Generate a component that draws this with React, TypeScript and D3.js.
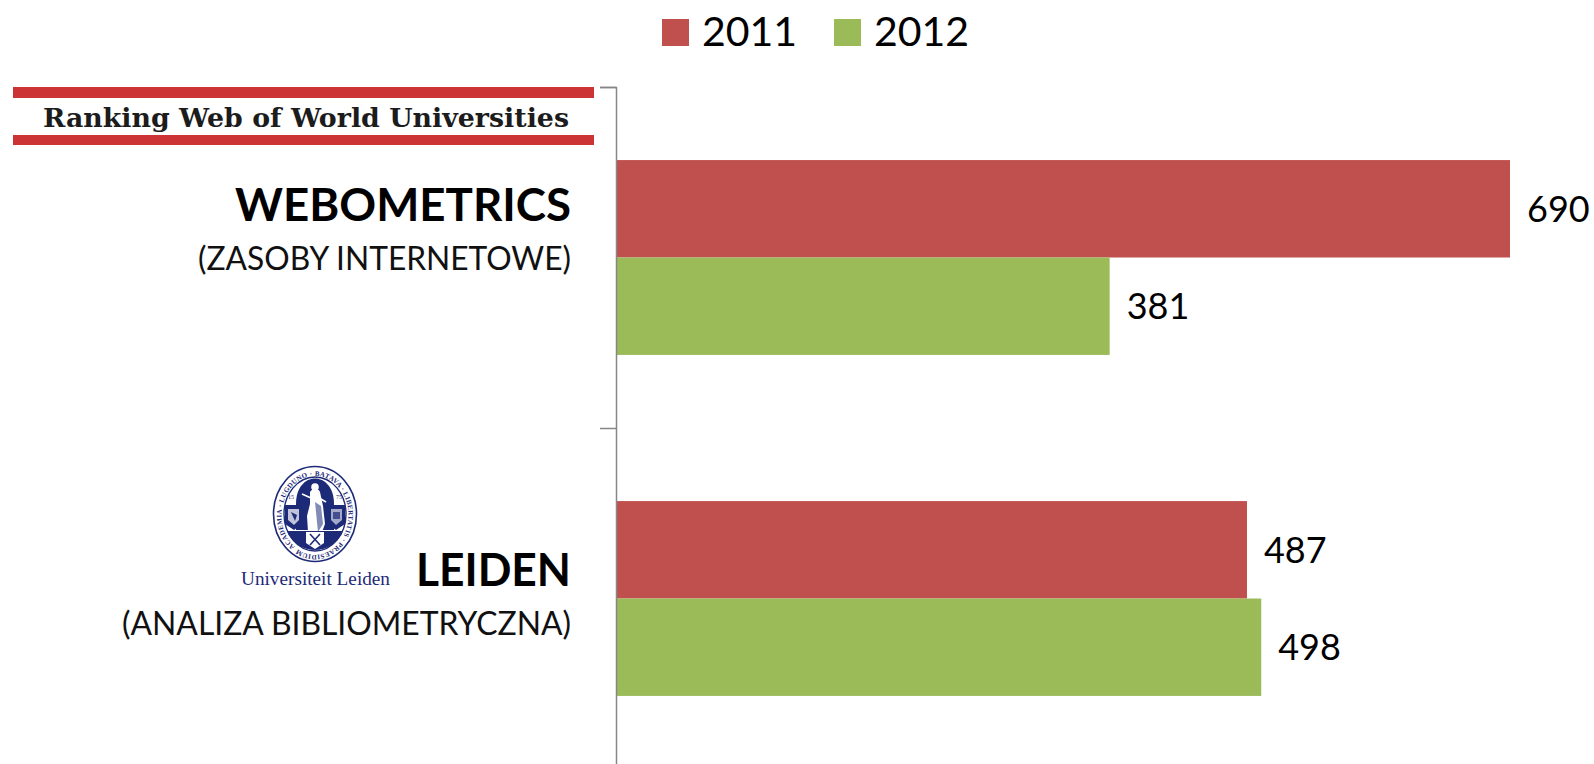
import { useEffect, useRef } from "react";
import * as d3 from "d3";

const categories = ["WEBOMETRICS", "LEIDEN"];
const subtitles = ["(ZASOBY INTERNETOWE)", "(ANALIZA BIBLIOMETRYCZNA)"];
const seriesNames = ["2011", "2012"];
const values2011 = [690, 487];
const values2012 = [381, 498];
const seriesColors = ["#C0504D", "#9BBB59"];

const font = "Lato, Carlito, sans-serif";
const W = 1594;
const H = 764;

const LeidenSeal = () => {
  const navy = "#1d2a78";
  return (
    <g transform="translate(315,514)">
      <ellipse rx={41.5} ry={47.5} fill="#fff" stroke={navy} strokeWidth={1.6} />
      <ellipse rx={31} ry={37} fill="#fff" stroke={navy} strokeWidth={1.4} />
      <path
        id="sealRing"
        d="M -20,33 A 33.5 39.5 0 1 1 20,33 A 33.5 39.5 0 0 1 -20,33"
        fill="none"
      />
      <text fontFamily="Liberation Serif" fontWeight={700} fontSize={7} fill={navy}>
        <textPath href="#sealRing" textLength={226} lengthAdjust="spacing">
          ACADEMIA · LUGDUNO · BATAVA · LIBERTATIS · PRAESIDIUM
        </textPath>
      </text>
      {/* centre arch with the figure */}
      <path d="M -19,-10 C -19,-44 19,-44 19,-10 L 19,16 L -19,16 Z" fill={navy} />
      <path d="M -5,-22 C -3,-26 4,-26 5,-22 L 8,-8 L 10,10 L 7,18 L -7,18 L -8,2 L -5,-10 Z" fill="#fff" />
      <circle cx={0} cy={-27} r={3.8} fill="#fff" />
      <path d="M 0,-12 L 6,-8 L 8,10 L 3,18 Z" fill={navy} opacity={0.55} />
      <path d="M -4,-16 L -13,-20 M 4,-16 L 11,-12" stroke="#fff" strokeWidth={1.6} />
      <text x={-24} y={-15} fontFamily="Liberation Serif" fontSize={6} fill={navy} textAnchor="middle">15</text>
      <text x={24} y={-15} fontFamily="Liberation Serif" fontSize={6} fill={navy} textAnchor="middle">75</text>
      {/* side towers and shields */}
      <path d="M -30,-9 L -13,-9 L -13,10 L -21,16 L -30,10 Z" fill={navy} />
      <path d="M 13,-9 L 30,-9 L 30,10 L 21,16 L 13,10 Z" fill={navy} />
      <path d="M -27,-5 L -16,-5 L -16,6 L -21,11 L -27,6 Z" fill="#fff" opacity={0.72} />
      <path d="M 16,-5 L 27,-5 L 27,6 L 21,11 L 16,6 Z" fill="#fff" opacity={0.6} />
      <path d="M -24,-2 L -18,1 L -20,7 Z" fill={navy} />
      <path d="M 18,-2 L 25,-2 L 25,5 L 18,5 Z" fill={navy} opacity={0.7} />
      {/* base with the keys */}
      <path d="M -28,17 L 28,17 C 23,29 12,36 0,36 C -12,36 -23,29 -28,17 Z" fill={navy} />
      <path d="M -9,18 L 9,18 L 9,29 L 0,35 L -9,29 Z" fill="#fff" />
      <path d="M -5,20 L 5,31 M 5,20 L -5,31" stroke={navy} strokeWidth={1.6} />
    </g>
  );
};

const App = () => {
  const axisRef = useRef<SVGGElement>(null);

  // 2 categories over the plot height, the axis runs off the bottom of the page
  const y = d3.scaleBand<string>().domain(categories).range([87, 769]);
  const yInner = d3
    .scaleBand<string>()
    .domain(seriesNames)
    .range([0, y.bandwidth()])
    .paddingInner(0)
    .paddingOuter(0.75);
  const x = d3.scaleLinear().domain([0, 690]).range([616, 1510]);

  const series = [values2011, values2012];

  useEffect(() => {
    const tickPositions = [...categories.map((c) => y(c) as number), y.range()[1]];
    const axisScale = d3.scaleIdentity().domain(y.range());
    const g = d3.select(axisRef.current);
    g.call(
      d3
        .axisLeft(axisScale as any)
        .tickValues(tickPositions)
        .tickSize(16)
        .tickSizeOuter(16)
        .tickFormat(() => "")
    );
    g.selectAll("path, line").attr("stroke", "#868686").attr("stroke-width", 1.5);
  }, []);

  return (
    <svg
      width={W}
      height={H}
      viewBox={`0 0 ${W} ${H}`}
      style={{ position: "absolute", left: 0, top: 0, background: "#fff" }}
    >
      {/* legend */}
      <rect x={662} y={19} width={27} height={27} fill={seriesColors[0]} />
      <text x={702} y={46} fontFamily={font} fontSize={41} fill="#000">{seriesNames[0]}</text>
      <rect x={834} y={19} width={27} height={27} fill={seriesColors[1]} />
      <text x={874} y={46} fontFamily={font} fontSize={41} fill="#000">{seriesNames[1]}</text>

      {/* bars */}
      {categories.map((c, i) =>
        seriesNames.map((s, j) => (
          <rect
            key={c + s}
            x={x(0)}
            y={(y(c) as number) + (yInner(s) as number)}
            width={x(series[j][i]) - x(0)}
            height={yInner.bandwidth()}
            fill={seriesColors[j]}
          />
        ))
      )}

      {/* value labels */}
      {categories.map((c, i) =>
        seriesNames.map((s, j) => (
          <text
            key={c + s}
            x={x(series[j][i]) + 17}
            y={(y(c) as number) + (yInner(s) as number) + yInner.bandwidth() / 2 + 13}
            fontFamily={font}
            fontSize={36}
            fill="#000"
          >
            {series[j][i]}
          </text>
        ))
      )}

      <g ref={axisRef} transform="translate(616,0)" />

      {/* category labels */}
      <text x={571} y={221} textAnchor="end" fontFamily={font} fontWeight={700} fontSize={46} fill="#000" textLength={336} lengthAdjust="spacingAndGlyphs">
        {categories[0]}
      </text>
      <text x={571} y={270} textAnchor="end" fontFamily={font} fontSize={32} fill="#111" textLength={373} lengthAdjust="spacingAndGlyphs">
        {subtitles[0]}
      </text>
      <text x={571} y={586} textAnchor="end" fontFamily={font} fontWeight={700} fontSize={46} fill="#000" textLength={155} lengthAdjust="spacingAndGlyphs">
        {categories[1]}
      </text>
      <text x={571} y={635} textAnchor="end" fontFamily={font} fontSize={32} fill="#111" textLength={449} lengthAdjust="spacingAndGlyphs">
        {subtitles[1]}
      </text>

      {/* ranking banner */}
      <rect x={13} y={87} width={581} height={11} fill="#CB3335" />
      <rect x={13} y={135} width={581} height={10} fill="#CB3335" />
      <text
        x={43}
        y={127}
        fontFamily="DejaVu Serif"
        fontWeight={700}
        fontSize={26}
        fill="#1c1c1c"
        textLength={526}
        lengthAdjust="spacingAndGlyphs"
      >
        Ranking Web of World Universities
      </text>

      <LeidenSeal />
      <text
        x={241}
        y={585}
        fontFamily="Liberation Serif"
        fontSize={18.5}
        fill="#1d2a78"
        textLength={149}
        lengthAdjust="spacingAndGlyphs"
      >
        Universiteit Leiden
      </text>
    </svg>
  );
};

export default App;
